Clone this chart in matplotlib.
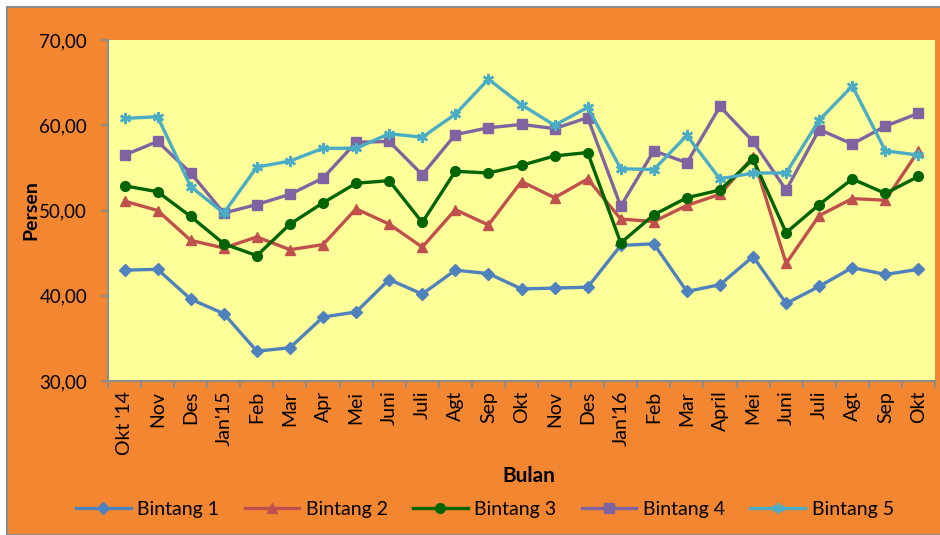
import numpy as np
import matplotlib.pyplot as plt
from matplotlib.patches import Rectangle

plt.rcParams['font.family'] = ['Lato', 'DejaVu Sans']

bulan = ["Okt '14", "Nov", "Des", "Jan'15", "Feb", "Mar", "Apr", "Mei", "Juni", "Juli",
         "Agt", "Sep", "Okt", "Nov", "Des", "Jan'16", "Feb", "Mar", "April", "Mei",
         "Juni", "Juli", "Agt", "Sep", "Okt"]

bintang1 = [43.0, 43.1, 39.6, 37.9, 33.5, 33.9, 37.5, 38.1, 41.9, 40.2, 43.0, 42.6, 40.8,
            40.9, 41.0, 45.9, 46.1, 40.5, 41.3, 44.6, 39.1, 41.1, 43.3, 42.5, 43.1]
bintang2 = [51.1, 50.0, 46.5, 45.6, 46.9, 45.4, 46.0, 50.2, 48.4, 45.7, 50.1, 48.3, 53.4,
            51.5, 53.7, 49.0, 48.7, 50.6, 51.9, 56.3, 43.8, 49.4, 51.4, 51.2, 57.0]
bintang3 = [52.9, 52.2, 49.3, 46.1, 44.7, 48.4, 50.9, 53.2, 53.5, 48.6, 54.6, 54.4, 55.3,
            56.4, 56.8, 46.2, 49.5, 51.5, 52.4, 56.0, 47.4, 50.7, 53.7, 52.0, 54.0]
bintang4 = [56.5, 58.1, 54.4, 49.7, 50.7, 51.9, 53.8, 58.0, 58.1, 54.2, 58.9, 59.7, 60.1,
            59.6, 60.9, 50.5, 57.0, 55.6, 62.2, 58.1, 52.4, 59.5, 57.8, 59.9, 61.4]
bintang5 = [60.8, 61.0, 52.8, 49.7, 55.1, 55.8, 57.3, 57.3, 59.0, 58.6, 61.3, 65.4, 62.4,
            60.0, 62.1, 54.9, 54.8, 58.8, 53.7, 54.4, 54.4, 60.6, 64.6, 57.0, 56.5]

series = [
    ("Bintang 1", bintang1, "#4F81BD", "D", 6),
    ("Bintang 2", bintang2, "#C0504D", "^", 7),
    ("Bintang 3", bintang3, "#006400", "o", 7),
    ("Bintang 4", bintang4, "#8064A2", "s", 7),
    ("Bintang 5", bintang5, "#4BACC6", (6, 2, 0), 8),
]

orange = "#F38630"
fig = plt.figure(figsize=(9.4, 5.35), dpi=100, facecolor="white")
bg = Rectangle((7 / 940, 0), 1, 1 - 7 / 535, transform=fig.transFigure,
               facecolor=orange, edgecolor="#8C8C8C", linewidth=1.5, zorder=-10)
fig.patches.append(bg)

ax = fig.add_axes([108 / 940, 1 - 381 / 535, 827 / 940, 341 / 535])
ax.set_zorder(5)
ax.set_facecolor("#FFFF99")

x = np.arange(len(bulan))
for name, vals, col, mk, ms in series:
    star = not isinstance(mk, str)
    ax.plot(x, vals, color=col, lw=2.4, marker=mk, ms=ms, mew=1.8 if star else 1,
            mec=col, mfc=col, label=name)

ax.set_xlim(-0.5, len(bulan) - 0.5)
ax.set_ylim(30, 70)
ax.set_yticks([30, 40, 50, 60, 70])
ax.set_yticklabels(["30,00", "40,00", "50,00", "60,00", "70,00"], fontsize=13.5)
ax.set_xticks(x)
ax.set_xticklabels(bulan, rotation=90, fontsize=14)
ax.set_xticks(np.arange(-0.5, len(bulan)), minor=True)
ax.tick_params(axis="x", which="major", length=0, pad=7)
ax.tick_params(axis="x", which="minor", length=5, color="#8C8C8C", width=1.5)
ax.tick_params(axis="y", length=5, color="#8C8C8C", width=1.5, pad=10)

for s in ["top", "right"]:
    ax.spines[s].set_visible(False)
for s in ["left", "bottom"]:
    ax.spines[s].set_color("#8C8C8C")
    ax.spines[s].set_linewidth(1.5)

ax.set_ylabel("Persen", fontsize=14, fontweight="bold", labelpad=0)
fig.text(529 / 940, 1 - 476 / 535, "Bulan", fontsize=15, fontweight="bold",
         ha="center", va="center")

fig.legend(loc="center", bbox_to_anchor=(485 / 940, 1 - 509 / 535), ncol=5,
           frameon=False, fontsize=14, handlelength=2.8, columnspacing=1.3,
           handletextpad=0.35)

fig.savefig("out.png", dpi=100, facecolor=fig.get_facecolor())
